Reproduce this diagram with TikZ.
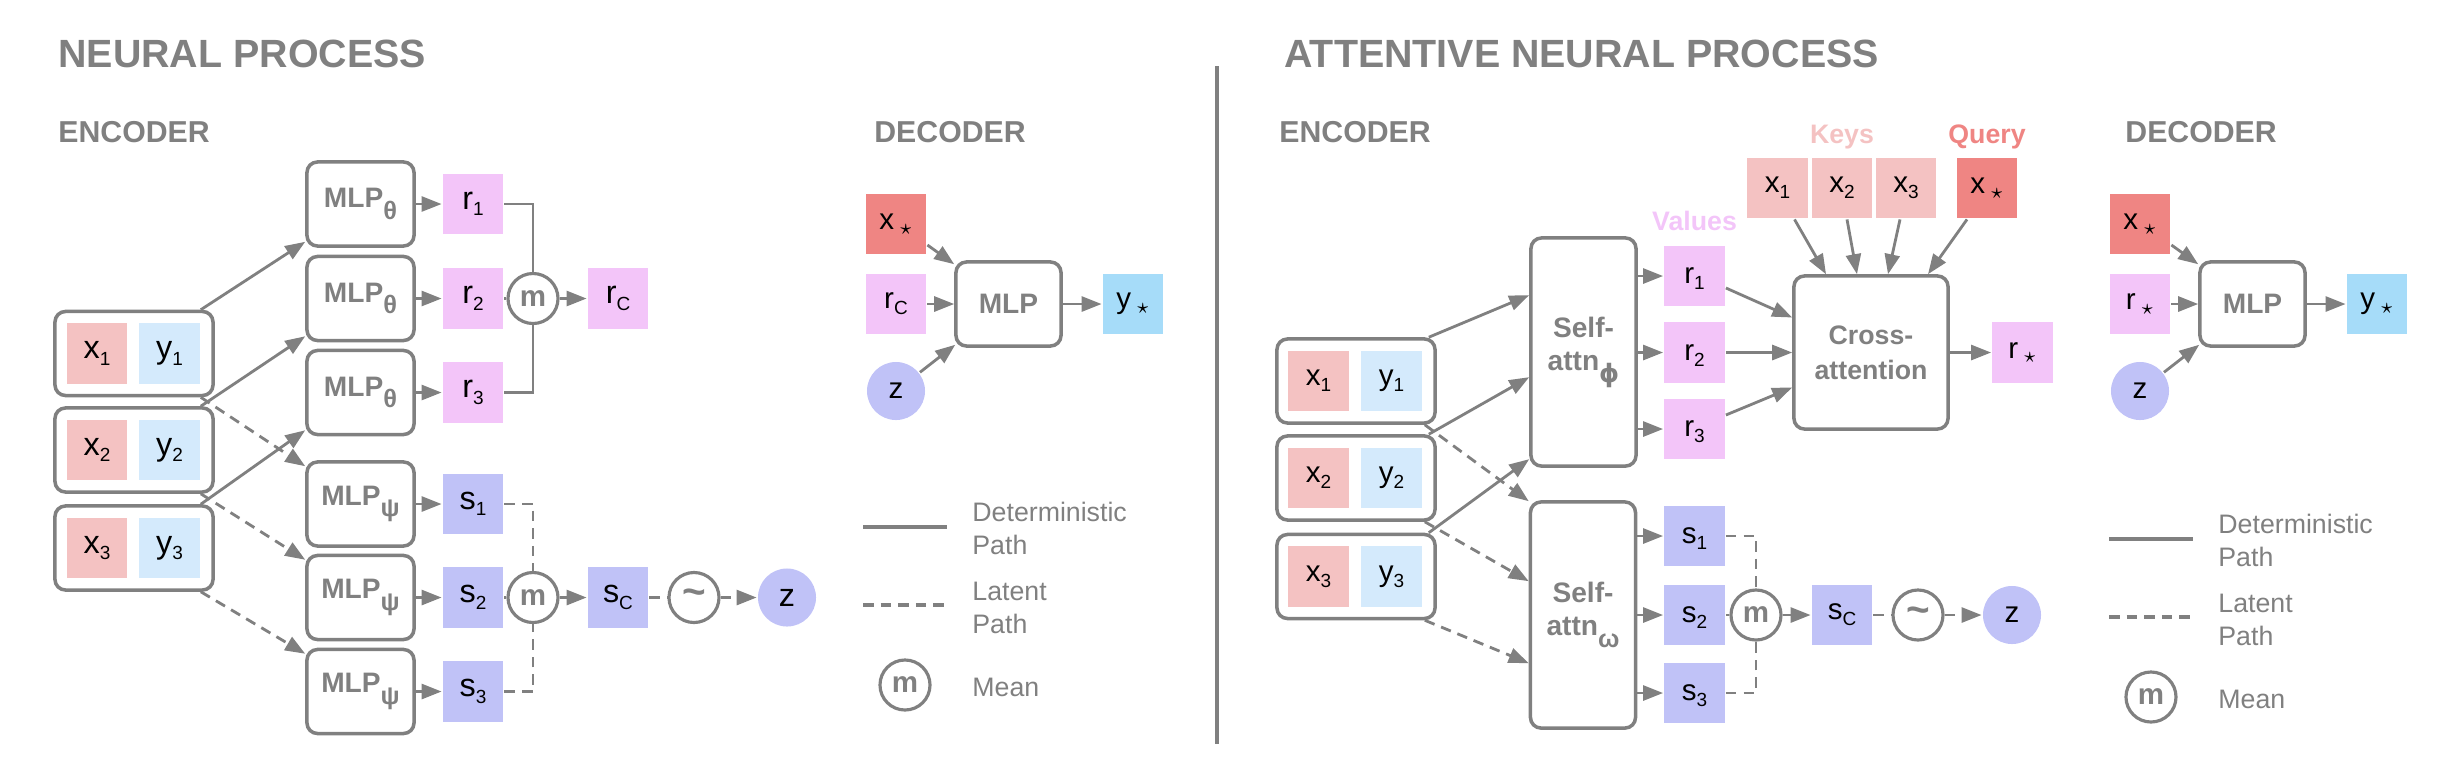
\documentclass[tikz,border=0pt]{standalone}
\usepackage{fontspec}
\setmainfont{Liberation Sans}
\newfontfamily\greekfont{DejaVu Sans}
\usepackage{tikz}
\usetikzlibrary{arrows.meta,calc,positioning}

\definecolor{ink}{RGB}{128,128,128}
\definecolor{xcol}{RGB}{244,194,194}
\definecolor{ycol}{RGB}{212,234,252}
\definecolor{rcol}{RGB}{243,197,249}
\definecolor{scol}{RGB}{192,194,247}
\definecolor{xstarcol}{RGB}{239,133,131}
\definecolor{ystarcol}{RGB}{166,220,249}

\newcommand{\fsz}[2]{\fontsize{#1}{#2}\selectfont}
\newcommand{\lowsub}[1]{\raisebox{-0.2em}{\fsz{5.4}{6}#1}}
\newcommand{\greeksub}[1]{\raisebox{-0.42em}{\fsz{7.2}{8}#1}}
\newcommand{\starsub}{\,\raisebox{-0.15em}{\fsz{6}{6}$\star$}}

\begin{document}
\begin{tikzpicture}[x=0.01cm,y=-0.01cm,ink,line width=0.8pt,
    >={Triangle[length=0.2cm,width=0.15cm]},
    title/.style={anchor=base west,inner sep=0pt,font=\bfseries\fsz{11.2}{13}},
    head/.style={anchor=base west,inner sep=0pt,font=\bfseries\fsz{8.6}{10}},
    tag/.style={anchor=base,inner sep=0pt,font=\bfseries\fsz{7.6}{9}},
    cell/.style={minimum size=0.6cm,inner sep=0pt,text=black,font=\fsz{8.4}{10}},
    bigtext/.style={font=\fsz{9.2}{11}},
    blob/.style={circle,fill=scol,minimum size=0.58cm,inner sep=0pt,text=black,font=\fsz{8.4}{10}},
    pair/.style={draw,line width=1pt,rounded corners=3pt,minimum width=1.58cm,minimum height=0.84cm},
    net/.style={draw,line width=1pt,rounded corners=3pt,inner sep=0pt,align=center,font=\bfseries\fsz{8}{9.4}},
    mean/.style={draw,circle,line width=0.9pt,minimum size=0.5cm,inner sep=0pt,font=\bfseries\fsz{8.4}{9}},
    latent/.style={dash pattern=on 3pt off 2pt},
    legend/.style={inner sep=0pt,align=left,font=\fsz{7.6}{9.4}}]
\useasboundingbox (0,0) rectangle (2456,760);

% titles
\node[title] (nptitle) at (57,67) {NEURAL PROCESS};
\node[title] (anptitle) at (1283,67) {ATTENTIVE NEURAL PROCESS};
\node[head] (npenc) at (57,142) {ENCODER};
\node[head] (npdec) at (873,142) {DECODER};
\node[head] (anpenc) at (1278,142) {ENCODER};
\node[head] (anpdec) at (2124,142) {DECODER};
\coordinate (divtop) at (1217,66);
\coordinate (divbot) at (1217,744);
\draw[line width=1pt] (divtop) -- (divbot);

% neural process, encoder
\foreach \i/\y in {1/353.5,2/450,3/548}{
  \node[pair] (c\i) at (134,\y) {};
  \node[cell,bigtext,fill=xcol] (cx\i) at ($(c\i)+(-37,0)$) {x\lowsub{\i}};
  \node[cell,bigtext,fill=ycol] (cy\i) at ($(c\i)+(35.5,0)$) {y\lowsub{\i}};
}
\foreach \i/\y/\v in {1/204/504,2/298.5/597.5,3/392.5/691.5}{
  \node[net,minimum width=1.07cm,minimum height=0.84cm] (th\i) at (360.5,\y) {MLP\greeksub{θ}};
  \node[net,minimum width=1.07cm,minimum height=0.84cm] (ps\i) at (360.5,\v) {MLP\greeksub{ψ}};
  \node[cell,bigtext,fill=rcol] (r\i) at (473,\y) {r\lowsub{\i}};
  \node[cell,bigtext,fill=scol] (s\i) at (473,\v) {s\lowsub{\i}};
  \draw[->] (th\i) -- (r\i);
  \draw[->] (ps\i) -- (s\i);
  \draw[->] ($(c\i.north east)+(-14,0)$) -- ($(th\i.south west)+(0,-6)$);
  \draw[->,latent] ($(c\i.south east)+(-14,0)$) -- ($(ps\i.north west)+(0,6)$);
}
\node[mean] (mr) at (533,298.5) {m};
\node[cell,bigtext,fill=rcol] (rc) at (618,298.5) {r\lowsub{C}};
\draw (r1) -| (mr);
\draw (r2) -- (mr);
\draw (r3) -| (mr);
\draw[->] (mr) -- (rc);
\node[mean] (ms) at (533,597.5) {m};
\node[cell,bigtext,fill=scol] (sc) at (618,597.5) {s\lowsub{C}};
\node[mean,font=\bfseries\fsz{11.5}{11}] (smp) at (694,597.5) {\textasciitilde};
\node[blob,bigtext] (z) at (787,597.5) {z};
\draw[latent] (s1) -| (ms);
\draw[latent] (s2) -- (ms);
\draw[latent] (s3) -| (ms);
\draw[->] (ms) -- (sc);
\draw[latent] (sc) -- (smp);
\draw[->,latent] (smp) -- (z);

% attentive neural process, encoder
\foreach \i/\y in {1/381,2/478,3/576.5}{
  \node[pair] (a\i) at (1356,\y) {};
  \node[cell,fill=xcol] (ax\i) at ($(a\i)+(-37.5,0)$) {x\lowsub{\i}};
  \node[cell,fill=ycol] (ay\i) at ($(a\i)+(35.5,0)$) {y\lowsub{\i}};
}
\node[net,minimum width=1.05cm,minimum height=2.28cm] (sap) at (1583.5,352) {Self-\\attn\greeksub{\greekfont ϕ}};
\node[net,minimum width=1.05cm,minimum height=2.26cm] (saw) at (1583,615) {Self-\\attn\greeksub{ω}};
\foreach \i/\y/\v/\dp/\dw in {1/276/536/59/1,2/352.5/615/141/81,3/429/693/223/163}{
  \node[cell,fill=rcol] (ar\i) at (1694.5,\y) {r\lowsub{\i}};
  \node[cell,fill=scol] (as\i) at (1694.5,\v) {s\lowsub{\i}};
  \draw[->] (sap.east |- ar\i) -- (ar\i);
  \draw[->] (saw.east |- as\i) -- (as\i);
  \draw[->] ($(a\i.north east)+(-8,0)$) -- ($(sap.north west)+(0,\dp)$);
  \draw[->,latent] ($(a\i.south east)+(-12,0)$) -- ($(saw.north west)+(0,\dw)$);
}
\node[mean] (am) at (1756,615) {m};
\node[cell,fill=scol] (asc) at (1842,615) {s\lowsub{C}};
\node[mean,font=\bfseries\fsz{11.5}{11}] (asmp) at (1918,615) {\textasciitilde};
\node[blob] (az) at (2012,615) {z};
\draw[latent] (as1) -| (am);
\draw[latent] (as2) -- (am);
\draw[latent] (as3) -| (am);
\draw[->] (am) -- (asc);
\draw[latent] (asc) -- (asmp);
\draw[->,latent] (asmp) -- (az);

% cross attention
\node[net,minimum width=1.54cm,minimum height=1.53cm,font=\bfseries\fsz{7.6}{10}] (ca) at (1871,352.5) {Cross-\\attention};
\foreach \i/\x/\sx/\ex in {1/1777.5/17/-45,2/1842/5/-14,3/1906/-6/17}{
  \node[cell,fill=xcol] (k\i) at (\x,188) {x\lowsub{\i}};
  \draw[->] ($(k\i.south)+(\sx,0)$) -- ($(ca.north)+(\ex,0)$);
}
\node[cell,fill=xstarcol] (q) at (1987,188) {x\starsub};
\node[cell,fill=rcol] (rs) at (2022.5,352.5) {r\starsub};
\node[tag,text=rcol] (values) at (1694.5,230) {Values};
\node[tag,text=xcol] (keys) at (1842,143) {Keys};
\node[tag,text=xstarcol] (query) at (1987,143) {Query};
\draw[->] ($(q.south)+(-20,0)$) -- ($(ca.north)+(57,0)$);
\draw[->] ($(ar1.east)+(0,12)$) -- ($(ca.west)+(0,-35)$);
\draw[->] (ar2) -- (ca);
\draw[->] ($(ar3.east)+(0,-14)$) -- ($(ca.west)+(0,35)$);
\draw[->] (ca) -- (rs);

% decoders
\foreach \k/\lx/\rlab in {n/0/{r\lowsub{C}},a/1244/{r\starsub}}{
  \begin{scope}[shift={(\lx,0)}]
    \node[cell,fill=xstarcol] (dx\k) at (896,224) {x\starsub};
    \node[cell,fill=rcol] (dr\k) at (896,304) {\rlab};
    \node[blob] (dz\k) at (896,391) {z};
    \node[net,minimum width=1.05cm,minimum height=0.84cm] (dm\k) at (1008.5,304) {MLP};
    \node[cell,fill=ystarcol] (dy\k) at (1133,304) {y\starsub};
    \draw[->] ($(dx\k.east)+(0,21)$) -- ($(dm\k.north west)+(0,4)$);
    \draw[->] (dr\k) -- (dm\k);
    \draw[->] (dz\k.38) -- ($(dm\k.south west)+(1,-3)$);
    \draw[->] (dm\k) -- (dy\k);
  \end{scope}
}

% legends
\foreach \k/\lx/\ly in {n/0/0,a/1246/12}{
  \begin{scope}[shift={(\lx,\ly)}]
    \coordinate (ls\k) at (863,527); \coordinate (le\k) at (947,527);
    \coordinate (lls\k) at (863,605); \coordinate (lle\k) at (947,605);
    \draw[line width=1pt] (ls\k) -- (le\k);
    \draw[line width=1pt,latent] (lls\k) -- (lle\k);
    \node[legend,anchor=north west] (ldet\k) at (971,501) {Deterministic\\Path};
    \node[legend,anchor=north west] (llat\k) at (971,581) {Latent\\Path};
    \node[mean] (lm\k) at (905,685) {m};
    \node[legend,anchor=base west] (lmean\k) at (971,696) {Mean};
  \end{scope}
}
\end{tikzpicture}
\end{document}
